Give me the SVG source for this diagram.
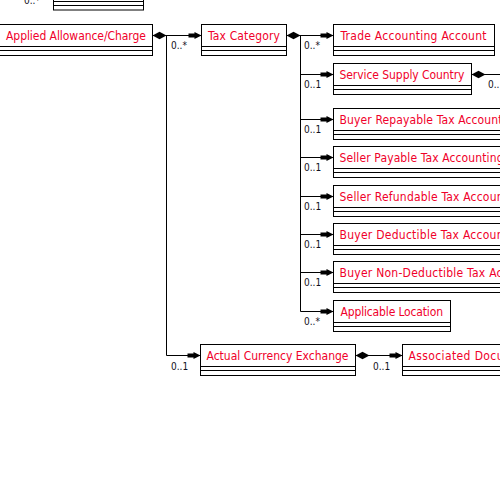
<svg xmlns="http://www.w3.org/2000/svg" width="500" height="500" viewBox="0 0 500 500">
<style>
.box{fill:#fff;stroke:#000;stroke-width:1}
.sep{stroke:#000;stroke-width:1}
.name{font-family:"DejaVu Sans Condensed","DejaVu Sans","Liberation Sans",sans-serif;font-size:12px;fill:#f0002a}
.card{font-family:"DejaVu Sans Condensed","DejaVu Sans","Liberation Sans",sans-serif;font-size:10px;fill:#111122}
.ln{stroke:#000;stroke-width:1;fill:none}
</style>
<defs>
<path id="dia" d="M0,0 L7,-3.8 L14,0 L7,3.8 Z" fill="#000"/>
<path id="arr" d="M-13,-2 H-7 V-3.5 L0,0 L-7,3.5 V2 H-13 Z" fill="#000"/>
</defs>
<rect width="500" height="500" fill="#fff"/>
<g id="connectors">
<path class="ln" d="M152.5,35.5 H201.5 M166.5,35.5 V355.5 H200.5"/>
<path class="ln" d="M286.5,35.5 H333.5 M300.5,35.5 V311.5 M300.5,74.5 H333.5 M300.5,119.5 H333.5 M300.5,157.5 H333.5 M300.5,196.5 H333.5 M300.5,234.5 H333.5 M300.5,272.5 H333.5 M300.5,311.5 H333.5"/>
<path class="ln" d="M471.5,74.5 H500 M355.5,355.5 H402.5"/>
<use href="#dia" x="152.5" y="35.5"/>
<use href="#dia" x="286.5" y="35.5"/>
<use href="#dia" x="471.5" y="74.5"/>
<use href="#dia" x="355.5" y="355.5"/>
<use href="#arr" x="201.5" y="35.5"/>
<use href="#arr" x="200.5" y="355.5"/>
<use href="#arr" x="333.5" y="35.5"/>
<use href="#arr" x="333.5" y="74.5"/>
<use href="#arr" x="333.5" y="119.5"/>
<use href="#arr" x="333.5" y="157.5"/>
<use href="#arr" x="333.5" y="196.5"/>
<use href="#arr" x="333.5" y="234.5"/>
<use href="#arr" x="333.5" y="272.5"/>
<use href="#arr" x="333.5" y="311.5"/>
<use href="#arr" x="402.5" y="355.5"/>
<text class="card" x="24" y="3.5">0..*</text>
<text class="card" x="171" y="48.5">0..*</text>
<text class="card" x="304" y="48.5">0..*</text>
<text class="card" x="304" y="87.5">0..1</text>
<text class="card" x="488" y="87.5">0..</text>
<text class="card" x="304" y="132.5">0..1</text>
<text class="card" x="304" y="170.5">0..1</text>
<text class="card" x="304" y="209.5">0..1</text>
<text class="card" x="304" y="247.5">0..1</text>
<text class="card" x="304" y="285.5">0..1</text>
<text class="card" x="304" y="324.5">0..*</text>
<text class="card" x="171" y="369.5">0..1</text>
<text class="card" x="373" y="369.5">0..1</text>
</g>
<g id="top-node">
<rect class="box" x="53.5" y="-20.5" width="90" height="30.5"/>
<path class="sep" d="M53.5,1.5 H143.5 M53.5,5.5 H143.5"/>
</g>
<g id="applied-allowance-charge">
<rect class="box" x="-10" y="24.5" width="162.5" height="31"/>
<path class="sep" d="M-10,46.5 H152.5 M-10,50.5 H152.5"/>
<text class="name" x="6" y="39.5" textLength="140">Applied Allowance/Charge</text>
</g>
<g id="tax-category">
<rect class="box" x="201.5" y="24.5" width="85" height="31"/>
<path class="sep" d="M201.5,46.5 H286.5 M201.5,50.5 H286.5"/>
<text class="name" x="208" y="39.5" textLength="72">Tax Category</text>
</g>
<g id="trade-accounting-account">
<rect class="box" x="333.5" y="24.5" width="161" height="31"/>
<path class="sep" d="M333.5,46.5 H494.5 M333.5,50.5 H494.5"/>
<text class="name" x="340.5" y="39.5" textLength="146">Trade Accounting Account</text>
</g>
<g id="service-supply-country">
<rect class="box" x="333.5" y="63.5" width="138" height="31"/>
<path class="sep" d="M333.5,85.5 H471.5 M333.5,89.5 H471.5"/>
<text class="name" x="339.5" y="78.5" textLength="125">Service Supply Country</text>
</g>
<g id="buyer-repayable">
<rect class="box" x="333.5" y="108.5" width="200" height="31"/>
<path class="sep" d="M333.5,130.5 H533.5 M333.5,134.5 H533.5"/>
<text class="name" x="339.5" y="123.5" textLength="163">Buyer Repayable Tax Account</text>
</g>
<g id="seller-payable">
<rect class="box" x="333.5" y="146.5" width="200" height="31"/>
<path class="sep" d="M333.5,168.5 H533.5 M333.5,172.5 H533.5"/>
<text class="name" x="339.5" y="161.5" textLength="164">Seller Payable Tax Accounting</text>
</g>
<g id="seller-refundable">
<rect class="box" x="333.5" y="185.5" width="200" height="31"/>
<path class="sep" d="M333.5,207.5 H533.5 M333.5,211.5 H533.5"/>
<text class="name" x="339.5" y="200.5" textLength="164">Seller Refundable Tax Accoun</text>
</g>
<g id="buyer-deductible">
<rect class="box" x="333.5" y="223.5" width="200" height="31"/>
<path class="sep" d="M333.5,245.5 H533.5 M333.5,249.5 H533.5"/>
<text class="name" x="339.5" y="238.5" textLength="164">Buyer Deductible Tax Accoun</text>
</g>
<g id="buyer-non-deductible">
<rect class="box" x="333.5" y="261.5" width="200" height="31"/>
<path class="sep" d="M333.5,283.5 H533.5 M333.5,287.5 H533.5"/>
<text class="name" x="339.5" y="276.5" textLength="163">Buyer Non-Deductible Tax Ac</text>
</g>
<g id="applicable-location">
<rect class="box" x="333.5" y="300.5" width="117" height="31"/>
<path class="sep" d="M333.5,322.5 H450.5 M333.5,326.5 H450.5"/>
<text class="name" x="340.5" y="315.5" textLength="102.5">Applicable Location</text>
</g>
<g id="actual-currency-exchange">
<rect class="box" x="200.5" y="344.5" width="155" height="31"/>
<path class="sep" d="M200.5,366.5 H355.5 M200.5,370.5 H355.5"/>
<text class="name" x="206.5" y="359.5" textLength="142">Actual Currency Exchange</text>
</g>
<g id="associated-document">
<rect class="box" x="402.5" y="344.5" width="200" height="31"/>
<path class="sep" d="M402.5,366.5 H602.5 M402.5,370.5 H602.5"/>
<text class="name" x="408.5" y="359.5" textLength="95">Associated Docu</text>
</g>
</svg>
